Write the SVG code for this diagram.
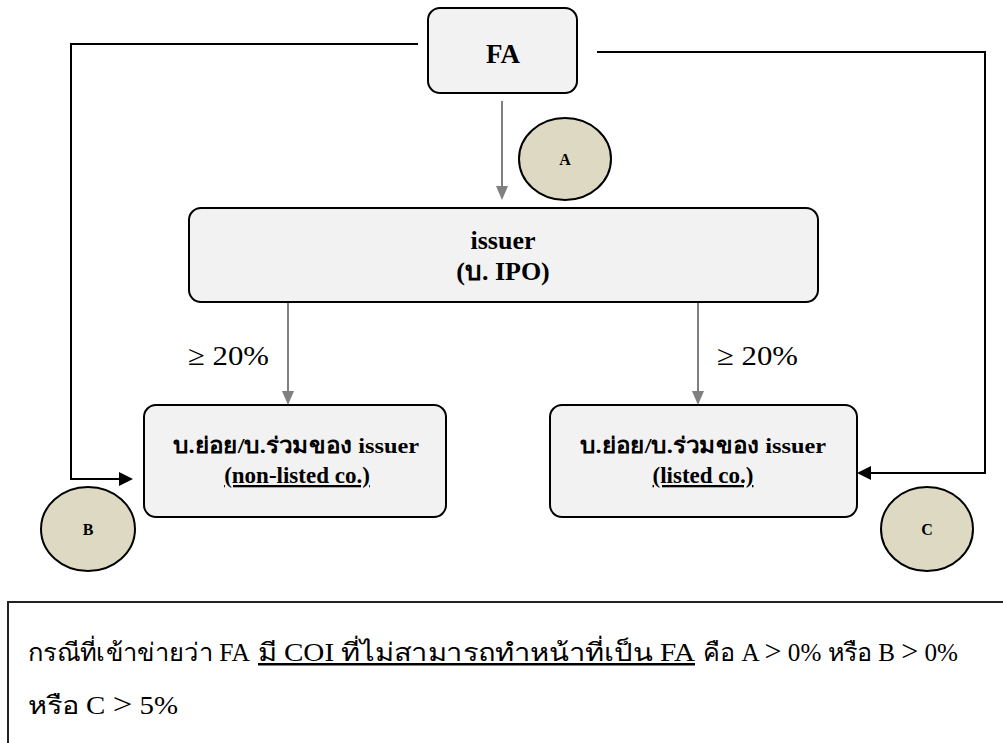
<svg xmlns="http://www.w3.org/2000/svg" width="1003" height="743" viewBox="0 0 1003 743">
<defs>
<style>
.box{fill:#f2f2f2;stroke:#000;stroke-width:2}
.circ{fill:#ddd9c3;stroke:#000;stroke-width:2}
.bt{font-family:"Liberation Serif","Times New Roman","DejaVu Serif",serif;font-weight:bold;fill:#000;text-anchor:middle}
.lbl{font-family:"Liberation Serif","Times New Roman","DejaVu Serif",serif;fill:#000}
.blk{fill:none;stroke:#000;stroke-width:2}
.gry{fill:none;stroke:#808080;stroke-width:2}
</style>
</defs>
<rect width="1003" height="743" fill="#fff"/>
<g id="connectors">
<path class="blk" d="M418,44 H71 V479 H120"/>
<path d="M119,472 L133,479 L119,486 z" fill="#000"/>
<path class="blk" d="M597,52 H985 V473 H870"/>
<path d="M871,466 L857,473 L871,480 z" fill="#000"/>
<line class="gry" x1="502" y1="101" x2="502" y2="188"/>
<path d="M496,186 L502,200 L508,186 z" fill="#808080"/>
<line class="gry" x1="288" y1="303" x2="288" y2="393"/>
<path d="M282,391 L288,405 L294,391 z" fill="#808080"/>
<line class="gry" x1="698" y1="303" x2="698" y2="393"/>
<path d="M692,391 L698,405 L704,391 z" fill="#808080"/>
</g>
<g id="node-fa">
<rect class="box" x="428" y="8" width="149" height="85" rx="12"/>
<text class="bt" x="503" y="63" font-size="27">FA</text>
</g>
<g id="node-a">
<ellipse class="circ" cx="565" cy="159" rx="46" ry="41"/>
<text class="bt" x="565" y="165" font-size="16">A</text>
</g>
<g id="node-issuer">
<rect class="box" x="189" y="208" width="629" height="94" rx="12"/>
<text class="bt" x="503" y="249" font-size="26">issuer</text>
<text class="bt" x="503" y="280" font-size="26">(บ. IPO)</text>
</g>
<text class="lbl" x="188" y="365" font-size="28" textLength="81" lengthAdjust="spacingAndGlyphs">≥ 20%</text>
<text class="lbl" x="717" y="365" font-size="28" textLength="81" lengthAdjust="spacingAndGlyphs">≥ 20%</text>
<g id="node-nonlisted">
<rect class="box" x="144" y="405" width="302" height="112" rx="12"/>
<text class="bt" x="296" y="453" font-size="22" textLength="246" lengthAdjust="spacingAndGlyphs">บ.ย่อย/บ.ร่วมของ issuer</text>
<text class="bt" x="297" y="483" font-size="23" text-decoration="underline">(non-listed co.)</text>
</g>
<g id="node-listed">
<rect class="box" x="550" y="405" width="307" height="112" rx="12"/>
<text class="bt" x="703" y="453" font-size="22" textLength="246" lengthAdjust="spacingAndGlyphs">บ.ย่อย/บ.ร่วมของ issuer</text>
<text class="bt" x="703" y="483" font-size="23" text-decoration="underline">(listed co.)</text>
</g>
<g id="node-b">
<ellipse class="circ" cx="88" cy="529" rx="47" ry="42"/>
<text class="bt" x="88" y="535" font-size="16">B</text>
</g>
<g id="node-c">
<ellipse class="circ" cx="927" cy="529" rx="46" ry="42"/>
<text class="bt" x="927" y="535" font-size="16">C</text>
</g>
<g id="note">
<path d="M1005,602 H8 V745" fill="none" stroke="#222" stroke-width="2"/>
<text class="lbl" x="28" y="661" font-size="25" textLength="222" lengthAdjust="spacingAndGlyphs">กรณีที่เข้าข่ายว่า FA</text>
<text class="lbl" x="258" y="661" font-size="25" textLength="437" lengthAdjust="spacingAndGlyphs" text-decoration="underline">มี COI ที่ไม่สามารถทำหน้าที่เป็น FA</text>
<text class="lbl" x="703" y="661" font-size="25" textLength="255" lengthAdjust="spacingAndGlyphs">คือ A <tspan font-size="30">&gt;</tspan> 0% หรือ B <tspan font-size="30">&gt;</tspan> 0%</text>
<text class="lbl" x="28" y="714" font-size="25" textLength="150" lengthAdjust="spacingAndGlyphs">หรือ C <tspan font-size="30">&gt;</tspan> 5%</text>
</g>
</svg>
